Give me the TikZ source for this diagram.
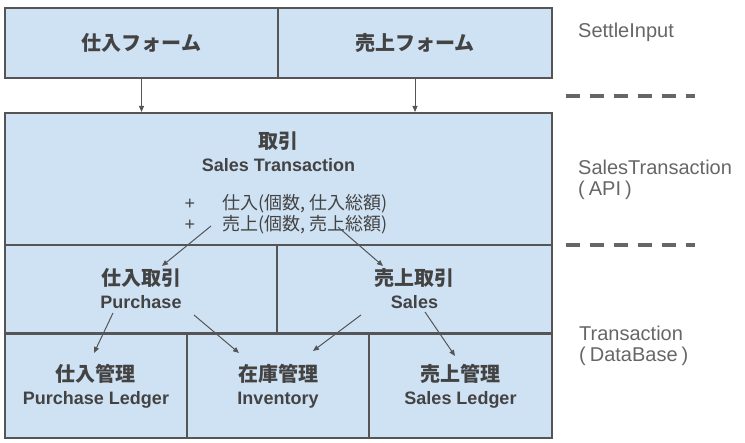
\documentclass[tikz,border=0pt]{standalone}
\usepackage{fontspec}
\setmainfont{Liberation Sans}
\newfontfamily\jp{Noto Sans CJK JP}
\usetikzlibrary{arrows.meta}
\definecolor{boxfill}{HTML}{CFE2F3}
\definecolor{bordercol}{HTML}{555555}
\definecolor{textcol}{HTML}{434343}
\definecolor{sidecol}{HTML}{666666}
\newcommand{\jb}[1]{{\jp\bfseries\fontsize{20}{23}\selectfont #1}}
\begin{document}
\begin{tikzpicture}[x=1pt,y=-1pt,
  box/.style={draw=bordercol, line width=2pt, fill=boxfill, inner sep=0pt,
    align=center, text=textcol, font=\bfseries\fontsize{18}{23}\selectfont},
  lbl/.style={inner sep=0pt, align=center, text=textcol, font=\bfseries\fontsize{18}{23}\selectfont},
  conn/.style={draw=bordercol, line width=1pt, -{Triangle[length=6pt,width=5pt]}},
  sep/.style={draw=sidecol, line width=4pt, dash pattern=on 14pt off 10pt},
  side/.style={anchor=west, align=left, text=sidecol, inner sep=0pt,
    font=\fontsize{20}{21.5}\selectfont}]
\useasboundingbox (0,0) rectangle (745,443);
% top row
\node[box, minimum width=273pt, minimum height=70pt] (fin) at (141.5,43) {\jb{仕入フォーム}};
\node[box, minimum width=274pt, minimum height=70pt] (fout) at (415,43) {\jb{売上フォーム}};
% transaction
\node[box, minimum width=547pt, minimum height=132pt] (tx) at (278.5,179) {};
\node[lbl] (txl) at (278.5,182.5)
  {\jb{取引}\\Sales Transaction\\[15pt]
   \makebox[188pt][l]{\mdseries\fontsize{18}{21}\selectfont +\hspace{27pt}{\jp 仕入(個数, 仕入総額)}}\\[-2pt]
   \makebox[188pt][l]{\mdseries\fontsize{18}{21}\selectfont +\hspace{27pt}{\jp 売上(個数, 売上総額)}}};
% row 2
\node[box, minimum width=272pt, minimum height=88pt] (pur) at (141,289) {\jb{仕入取引}\\Purchase};
\node[box, minimum width=275pt, minimum height=88pt] (sal) at (414.5,289) {\jb{売上取引}\\Sales};
% row 3
\node[box, minimum width=182pt, minimum height=104pt] (pl) at (96,386) {\jb{仕入管理}\\Purchase Ledger};
\node[box, minimum width=182pt, minimum height=104pt] (inv) at (278,386) {\jb{在庫管理}\\Inventory};
\node[box, minimum width=183pt, minimum height=104pt] (sl) at (460.5,386) {\jb{売上管理}\\Sales Ledger};
% arrows
\draw[conn] (fin.south) -- (fin.south |- tx.north);
\draw[conn] (fout.south) -- (fout.south |- tx.north);
\coordinate (a1s) at (211,226); \coordinate (a1e) at (162,266);
\coordinate (a2s) at (338,227); \coordinate (a2e) at (383,266);
\coordinate (a3s) at (113,313); \coordinate (a3e) at (94,353);
\coordinate (a4s) at (194,315); \coordinate (a4e) at (239,353);
\coordinate (a5s) at (361,315); \coordinate (a5e) at (313,351);
\coordinate (a6s) at (425,312); \coordinate (a6e) at (455,356);
\draw[conn] (a1s) -- (a1e);
\draw[conn] (a2s) -- (a2e);
\draw[conn] (a3s) -- (a3e);
\draw[conn] (a4s) -- (a4e);
\draw[conn] (a5s) -- (a5e);
\draw[conn] (a6s) -- (a6e);
% separators
\coordinate (d1s) at (566,96); \coordinate (d1e) at (695,96);
\coordinate (d2s) at (566,245); \coordinate (d2e) at (695,245);
\draw[sep] (d1s) -- (d1e);
\draw[sep] (d2s) -- (d2e);
% side labels
\node[side] (l1) at (578,32) {SettleInput};
\node[side] (l2) at (578,180) {SalesTransaction\\(\hspace{4pt}API\hspace{4pt})};
\node[side] (l3) at (579,346) {Transaction\\(\hspace{4pt}DataBase\hspace{4pt})};
\end{tikzpicture}
\end{document}
